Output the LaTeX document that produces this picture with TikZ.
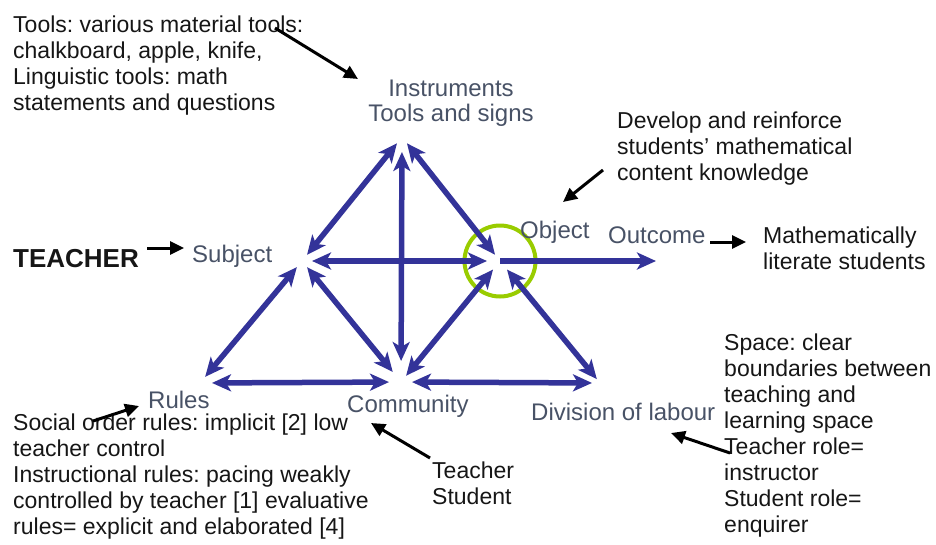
\documentclass[tikz,border=0pt]{standalone}
\usepackage{fontspec}
\setmainfont{Liberation Sans}
\usepackage{tikz}
\usetikzlibrary{arrows.meta}
\definecolor{linkblue}{RGB}{51,51,153}
\definecolor{ringgreen}{RGB}{153,204,0}
\definecolor{labelgrey}{RGB}{72,82,102}
\definecolor{notegrey}{RGB}{22,22,22}
\frenchspacing

\begin{document}
\begin{tikzpicture}[x=1pt, y=-1pt,
  link/.style={draw=linkblue, line width=5.5pt, {Stealth[length=19pt,width=17pt,inset=5pt]}-{Stealth[length=19pt,width=17pt,inset=5pt]}, shorten <=8pt, shorten >=8pt},
  flow/.style={draw=linkblue, line width=5.5pt, -{Stealth[length=19pt,width=17pt,inset=5pt]}},
  pointer/.style={draw=black, line width=3pt, -{Triangle[length=14pt,width=13pt]}},
  corner/.style={text=labelgrey, font=\fontsize{24}{25}\selectfont, inner sep=0pt, anchor=base west},
  note/.style={text=notegrey, font=\fontsize{23}{26}\selectfont, inner sep=0pt, anchor=north west, align=left}]
  \useasboundingbox (0,0) rectangle (936,544);

  \coordinate (T) at (402,137);
  \coordinate (S) at (302,261);
  \coordinate (O) at (500,261);
  \coordinate (R) at (200,383);
  \coordinate (C) at (401,382);
  \coordinate (D) at (600,383);
  \coordinate (Out) at (656,261);

  \node (ring) [circle, draw=ringgreen, line width=4pt, minimum size=71pt] at (O) {};

  \draw [link] (T) -- (S);
  \draw [link] (T) -- (O);
  \draw [link, shorten <=15pt, shorten >=21pt] (T) -- (C);
  \draw [link, shorten >=13pt] (S) -- (C);
  \draw [link, shorten <=11pt] (O) -- (C);
  \draw [link] (S) -- (R);
  \draw [link, shorten <=11pt, shorten >=5pt] (O) -- (D);
  \draw [link, shorten <=12pt, shorten >=12pt] (R) -- (C);
  \draw [link, shorten <=11pt, shorten >=8pt] (C) -- (D);
  \draw [link, shorten <=10pt, shorten >=13pt] (S) -- (O);
  \draw [flow] (O) -- (Out);

  \node (instr) [corner, anchor=north, align=center] at (451,80) {Instruments\\Tools and signs};
  \node (subj) [corner] at (192,262) {Subject};
  \node (obj) [corner] at (520,238) {Object};
  \node (outc) [corner] at (608,243) {Outcome};
  \node (rules) [corner] at (148,408) {Rules};
  \node (comm) [corner] at (347,412) {Community};
  \node (divl) [corner] at (531,420) {Division of labour};

  \node (teacher) [text=notegrey, font=\bfseries\fontsize{26}{28}\selectfont, inner sep=0pt, anchor=base west] at (13,267) {TEACHER};
  \node (toolsnote) [note] at (13,15.5) {Tools: various material tools:\\chalkboard, apple, knife,\\Linguistic tools: math\\statements and questions};
  \node (objnote) [note] at (617,111.5) {Develop and reinforce\\students' mathematical\\content knowledge};
  \node (outnote) [note] at (763,226.5) {Mathematically\\literate students};
  \node (labournote) [note] at (724,333.5) {Space: clear\\boundaries between\\teaching and\\learning space\\Teacher role=\\instructor\\Student role=\\enquirer};
  \node (rulesnote) [note] at (13,413.5) {Social order rules: implicit [2] low\\teacher control\\Instructional rules: pacing weakly\\controlled by teacher [1] evaluative\\rules= explicit and elaborated [4]};
  \node (commnote) [note] at (432,462) {Teacher\\Student};

  \coordinate (toolsFrom) at (275,28);
  \coordinate (toolsTo) at (358,79);
  \coordinate (objFrom) at (603,170);
  \coordinate (objTo) at (563,202);
  \coordinate (subjFrom) at (147,248);
  \coordinate (subjTo) at (184,248);
  \coordinate (outFrom) at (710,242);
  \coordinate (outTo) at (746,242);
  \coordinate (rulesFrom) at (93,421);
  \coordinate (rulesTo) at (139,406);
  \coordinate (commFrom) at (430,458);
  \coordinate (commTo) at (371,423);
  \coordinate (divFrom) at (730,453);
  \coordinate (divTo) at (671,433);

  \draw [pointer] (toolsFrom) -- (toolsTo);
  \draw [pointer] (objFrom) -- (objTo);
  \draw [pointer] (subjFrom) -- (subjTo);
  \draw [pointer] (outFrom) -- (outTo);
  \draw [pointer] (rulesFrom) -- (rulesTo);
  \draw [pointer] (commFrom) -- (commTo);
  \draw [pointer] (divFrom) -- (divTo);
\end{tikzpicture}
\end{document}
